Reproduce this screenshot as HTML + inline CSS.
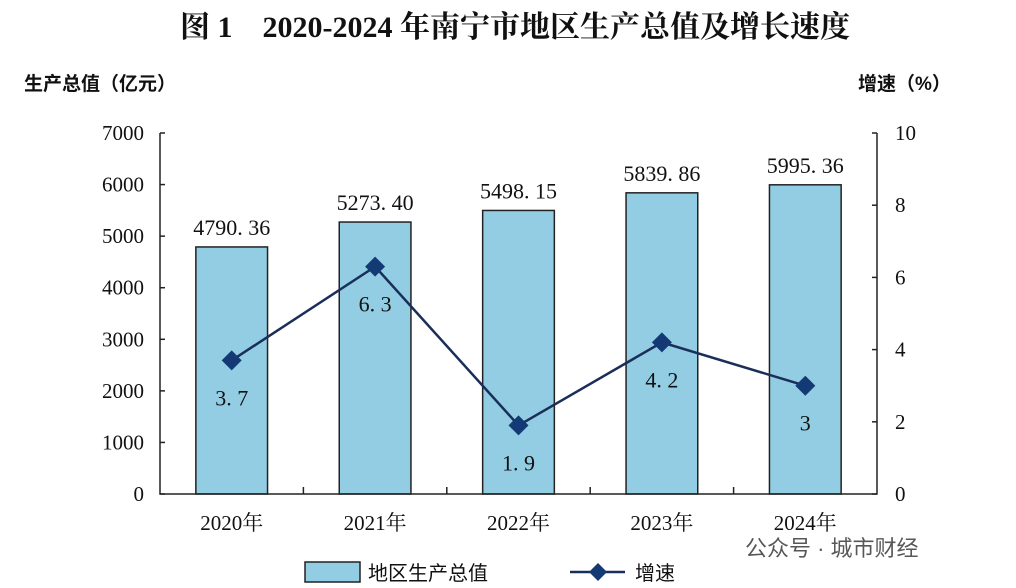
<!DOCTYPE html>
<html><head><meta charset="utf-8">
<style>
body{margin:0;background:#fff;}
svg{display:block;}
text{font-family:"Liberation Serif","Noto Serif CJK SC",serif;fill:#111;}
.cjk{font-family:"Liberation Sans","Noto Sans CJK SC",sans-serif;}
</style></head>
<body>
<svg id="chart" width="1016" height="588" viewBox="0 0 1016 588">
<text x="515" y="37" text-anchor="middle" font-size="30" font-weight="bold">图 1　2020-2024 年南宁市地区生产总值及增长速度</text>
<text class="cjk" x="24" y="90" font-size="19" font-weight="bold">生产总值（亿元）</text>
<text class="cjk" x="858" y="90" font-size="19" font-weight="bold">增速（%）</text>
<g id="plot"></g>
<g>
<rect x="305" y="562" width="55" height="20" fill="#92cde3" stroke="#222" stroke-width="1.5"/>
<text class="cjk" x="368" y="580" font-size="20">地区生产总值</text>
<line x1="570" y1="572" x2="625" y2="572" stroke="#1a2e5a" stroke-width="2.5"/>
<path d="M598 563 L607 572 L598 581 L589 572Z" fill="#143a75"/>
<text class="cjk" x="635" y="580" font-size="20">增速</text>
</g>
<text class="cjk" x="745" y="556" font-size="22" fill="#999" opacity="0.7">公众号 · 城市财经</text>
</svg>
<script>
const categories=["2020年","2021年","2022年","2023年","2024年"];
const gdpValues=[4790.36,5273.40,5498.15,5839.86,5995.36];
const gdpLabels=["4790. 36","5273. 40","5498. 15","5839. 86","5995. 36"];
const growthValues=[3.7,6.3,1.9,4.2,3];
const growthLabels=["3. 7","6. 3","1. 9","4. 2","3"];
const leftTicks=[0,1000,2000,3000,4000,5000,6000,7000];
const rightTicks=[0,2,4,6,8,10];

const NS="http://www.w3.org/2000/svg";
const g=document.getElementById("plot");
const X0=160,X1=877,Y0=494,Y1=133;
const band=(X1-X0)/categories.length;
const xC=i=>X0+band*(i+0.5);
const yL=v=>Y0-(v/7000)*(Y0-Y1);
const yR=v=>Y0-(v/10)*(Y0-Y1);
function mk(tag,attrs,parent){const e=document.createElementNS(NS,tag);for(const k in attrs)e.setAttribute(k,attrs[k]);(parent||g).appendChild(e);return e;}

categories.forEach((c,i)=>{
  const bw=band*0.5,y=yL(gdpValues[i]);
  const r=mk("rect",{x:xC(i)-bw/2,y:y,width:bw,height:Y0-y,fill:"#92cde3",stroke:"#222","stroke-width":1.5});
  
  
  const t=mk("text",{x:xC(i),y:y-12,"text-anchor":"middle","font-size":22});
  t.textContent=gdpLabels[i];
  
  
  const xl=mk("text",{x:xC(i),y:530,"text-anchor":"middle","font-size":21});
  xl.textContent=c;
  
  
});
const ax=mk("path",{d:`M${X0} ${Y1} V${Y0} H${X1} V${Y1}`,fill:"none",stroke:"#222","stroke-width":1.5});


leftTicks.forEach(v=>{
  mk("line",{x1:X0,x2:X0+5,y1:yL(v),y2:yL(v),stroke:"#222","stroke-width":1.5});
  const t=mk("text",{x:X0-16,y:yL(v)+7,"text-anchor":"end","font-size":21});
  t.textContent=v;
  
  
});
rightTicks.forEach(v=>{
  mk("line",{x1:X1-5,x2:X1,y1:yR(v),y2:yR(v),stroke:"#222","stroke-width":1.5});
  const t=mk("text",{x:X1+18,y:yR(v)+7,"text-anchor":"start","font-size":21});
  t.textContent=v;
  
  
});
for(let i=1;i<categories.length;i++){mk("line",{x1:X0+band*i,x2:X0+band*i,y1:Y0,y2:Y0-7,stroke:"#222","stroke-width":1.5});}
const pts=growthValues.map((v,i)=>xC(i)+","+yR(v)).join(" ");
const pl=mk("polyline",{points:pts,fill:"none",stroke:"#1a2e5a","stroke-width":2.5});


growthValues.forEach((v,i)=>{
  const x=xC(i),y=yR(v);
  const d=mk("path",{d:`M${x} ${y-10} L${x+10} ${y} L${x} ${y+10} L${x-10} ${y}Z`,fill:"#143a75"});
  
  
  const t=mk("text",{x:x,y:y+45,"text-anchor":"middle","font-size":22});
  t.textContent=growthLabels[i];
  
  
});
</script>
</body></html>
